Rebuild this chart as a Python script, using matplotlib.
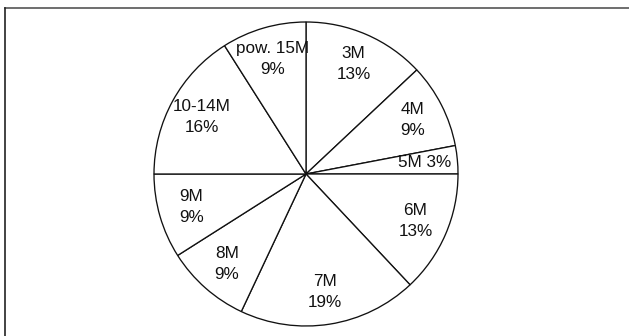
import matplotlib
matplotlib.use("Agg")
import matplotlib.pyplot as plt
import numpy as np

categories = ["3M", "4M", "5M", "6M", "7M", "8M", "9M", "10-14M", "pow. 15M"]
values = [13, 9, 3, 13, 19, 9, 9, 16, 9]
single_line = ["5M"]

plt.rcParams['font.family'] = ['Liberation Sans', 'DejaVu Sans']

W, H = 629, 336
fig = plt.figure(figsize=(W / 100, H / 100), dpi=100)
fig.patch.set_facecolor('white')

cx, cy, r = 306, 174, 152
ax = fig.add_axes([(cx - r) / W, (H - cy - r) / H, 2 * r / W, 2 * r / H])
wedges, _ = ax.pie(values, startangle=90, counterclock=False, radius=1,
                   wedgeprops=dict(facecolor='white', edgecolor='#111111', linewidth=0.95))
ax.set_xlim(-1.0, 1.0)
ax.set_ylim(-1.0, 1.0)
ax.set_aspect('equal')
ax.axis('off')

for w, name, v in zip(wedges, categories, values):
    ang = np.deg2rad((w.theta1 + w.theta2) / 2)
    d = 0.785
    if name in single_line:
        txt = f"{name} {v}%"
    else:
        txt = f"{name}\n{v}%"
    ax.text(d * np.cos(ang), d * np.sin(ang), txt, ha='center', va='center',
            fontsize=12.3, linespacing=1.5, color='#111111')

# frame lines (top and left)
fig.add_artist(plt.Line2D([5 / W, 1], [1 - 8 / H, 1 - 8 / H], transform=fig.transFigure, color='#555555', lw=1.2))
fig.add_artist(plt.Line2D([5 / W, 5 / W], [0, 1 - 8 / H], transform=fig.transFigure, color='#222222', lw=1.2))

fig.savefig("out.png", dpi=100, facecolor='white')
